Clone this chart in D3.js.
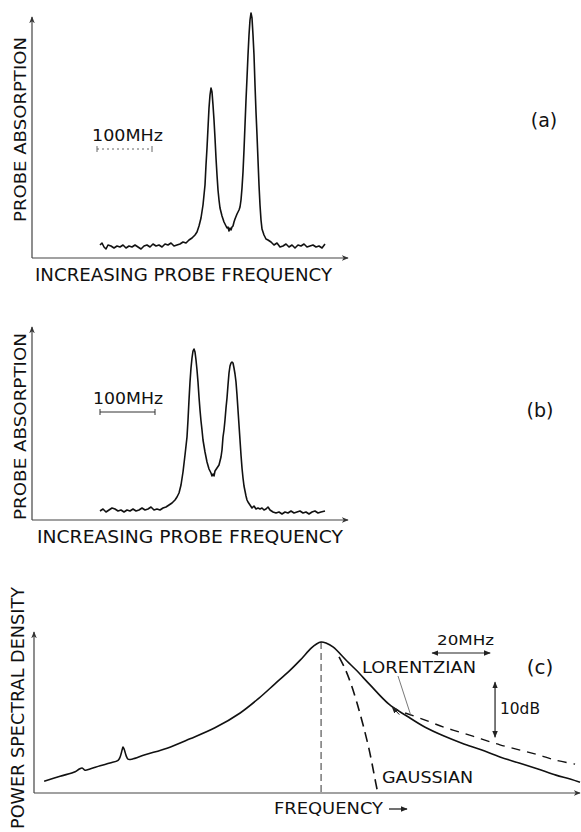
<!DOCTYPE html>
<html><head><meta charset="utf-8">
<script src="https://cdn.jsdelivr.net/npm/d3@7"></script>
<style>body{margin:0;background:#fff} text{font-family:"DejaVu Sans",sans-serif;fill:#111}</style>
</head><body><svg id="fig" width="581" height="832"></svg>
<script>
// ---------- DATA ----------
// Panel (a): probe frequency (arb. units, 55 units = 100 MHz) and absorption (arb.)
const freqA = [68,70,72,74,76,79,82,85,88,91,94,97,100,103,106,109,112,115,118,121,124,127,130,133,136,139,142,145,148,151,154,157,160,163,165,167,169,171,173,174,175,176,177,178,179,180,181,182,183,184,185,186,187,188,190,192,194,195,196,197,198,199,200,201,202,203,205,207,208,209,210,211,212,213,214,215,216,217,218,219,220,221,222,223,224,225,226,227,228,229,230,232,234,236,239,242,245,248,251,254,257,260,263,266,269,272,275,278,281,284,287,290,293];
const absA  = [13,15,11,9,13,12,10,12,11,13,10,12,11,13,11,9,12,13,11,14,12,13,11,14,13,15,12,13,14,16,15,18,20,23,26,32,40,53,73,93,110,130,150,163,170,166,153,138,120,100,83,68,58,50,42,36,32,30,31,27,30,28,31,32,36,39,44,48,51,58,70,86,108,133,158,180,203,223,238,245,240,223,203,173,146,123,98,73,53,38,29,23,19,18,16,13,15,11,12,14,11,13,10,13,12,14,11,12,13,11,12,10,14];
// Panel (b)
const freqB = [68,71,74,77,80,83,86,89,92,95,98,101,104,107,110,113,116,119,122,125,128,131,134,137,140,143,145,147,149,151,153,155,156,157,158,159,160,161,162,163,164,165,166,167,168,169,170,171,173,175,177,179,180,181,182,183,185,187,189,190,191,192,193,194,195,196,197,198,199,200,201,202,203,204,205,206,207,208,209,210,211,212,213,214,215,216,218,220,222,224,226,228,230,232,234,236,238,241,244,247,250,253,256,259,262,265,268,271,274,277,280,283,286,289,293];
const absB  = [9,11,8,10,12,11,9,10,8,10,9,11,9,10,12,10,11,13,10,11,10,12,13,15,17,20,23,27,35,48,65,83,100,120,138,152,162,169,171,168,160,150,138,123,110,99,90,80,68,58,51,47,44,46,44,49,52,55,63,70,83,90,100,112,122,135,147,154,157,158,157,152,146,138,125,110,95,80,65,52,42,34,29,24,20,18,15,12,14,11,12,11,12,10,11,13,10,8,7,8,6,8,7,9,7,8,9,7,8,6,8,9,7,8,9];
// Panel (c): frequency offset (MHz) and power spectral density (dB rel. peak)
const freqC = [-95.5,-90.0,-84.8,-83.4,-82.4,-81.4,-79.7,-76.2,-72.8,-70.0,-69.3,-68.6,-68.3,-67.9,-67.2,-66.6,-65.2,-60.7,-53.1,-45.2,-36.6,-27.9,-21.4,-15.9,-11.0,-7.2,-3.4,-1.7,0,1.7,4.1,9.0,12.1,16.9,23.4,29.7,35.9,42.4,48.6,55.2,61.7,68.3,74.8,81.0,85.9,89.3];
const psdC  = [-25.3,-24.4,-23.6,-23.1,-22.9,-23.3,-23.1,-22.5,-22.0,-21.5,-20.9,-19.6,-19.1,-19.5,-20.7,-21.3,-21.3,-20.5,-19.3,-17.6,-15.6,-12.9,-10.2,-7.6,-5.3,-3.3,-1.1,-0.4,0,-0.2,-0.9,-3.5,-5.1,-7.8,-11.3,-13.5,-15.5,-17.1,-18.4,-19.6,-20.9,-22.0,-23.1,-24.2,-24.9,-25.5];
const gaussF = [6.2,8.3,10.3,12.4,14.5,16.6,18.6,19.5];
const gaussP = [-2.7,-4.9,-7.6,-11.1,-15.1,-19.6,-24.9,-27.3];
const lorF = [29.0,35.9,42.4,48.6,55.2,61.7,68.3,74.8,81.0,87.6];
const lorP = [-12.9,-14.2,-15.5,-16.5,-17.6,-18.7,-19.6,-20.5,-21.5,-22.2];
const scaleBarMHz = 100, unitsPer100MHz = 55;
const spanMHz = 20, spanDB = 10;

// ---------- DRAWING ----------
const svg = d3.select("#fig");
const defs = svg.append("defs");
defs.append("marker").attr("id","ah").attr("viewBox","0 0 10 10").attr("refX",9).attr("refY",5)
  .attr("markerWidth",7).attr("markerHeight",7).attr("markerUnits","userSpaceOnUse").attr("orient","auto-start-reverse")
  .append("path").attr("d","M0,1 L10,5 L0,9 Z").attr("fill","#222");
defs.append("marker").attr("id","ax").attr("viewBox","0 0 10 10").attr("refX",9).attr("refY",5)
  .attr("markerWidth",7).attr("markerHeight",8).attr("markerUnits","userSpaceOnUse").attr("orient","auto")
  .append("path").attr("d","M0,1 L10,5 L0,9 L3,5 Z").attr("fill","#333");

function txt(s, x, y, size, len, opts={}) {
  const t = svg.append("text").text(s).attr("font-size", size);
  if (opts.rot) t.attr("transform", `translate(${x},${y}) rotate(-90)`);
  else t.attr("x", x).attr("y", y);
  if (len) t.attr("textLength", len).attr("lengthAdjust", "spacingAndGlyphs");
  if (opts.anchor) t.attr("text-anchor", opts.anchor);
  return t;
}
function axisLines(x, y) {
  const [x0,x1] = x.range(), [y0,y1] = y.range();
  svg.append("line").attr("x1",x0).attr("y1",y0).attr("x2",x0).attr("y2",y1)
    .attr("stroke","#444").attr("stroke-width",1.2).attr("marker-end","url(#ax)");
  svg.append("line").attr("x1",x0).attr("y1",y0).attr("x2",x1).attr("y2",y0)
    .attr("stroke","#444").attr("stroke-width",1.2).attr("marker-end","url(#ax)");
}
function trace(xs, ys, x, y, curve, extra={}) {
  const p = svg.append("path")
    .attr("d", d3.line().x(i=>x(xs[i])).y(i=>y(ys[i])).curve(curve)(d3.range(xs.length)))
    .attr("fill","none").attr("stroke","#111").attr("stroke-width", extra.w || 1.6)
    .attr("stroke-linejoin","round");
  if (extra.dash) p.attr("stroke-dasharray", extra.dash);
  return p;
}

// Panel (a)
const xA = d3.scaleLinear().domain([0,316]).range([32,348]);
const yA = d3.scaleLinear().domain([0,250]).range([258,17]);
axisLines(xA, yA);
const yAdata = d3.scaleLinear().domain([0,250]).range([258,8]);
trace(freqA, absA, xA, yAdata, d3.curveLinear);
svg.append("line").attr("x1",xA(65)).attr("x2",xA(65+unitsPer100MHz)).attr("y1",149).attr("y2",149)
  .attr("stroke","#666").attr("stroke-width",1).attr("stroke-dasharray","2,3");
[65, 65+unitsPer100MHz].forEach(v=>svg.append("line").attr("x1",xA(v)).attr("x2",xA(v)).attr("y1",146).attr("y2",152).attr("stroke","#666"));
txt("100MHz", 92, 141, 15, 71);
txt("INCREASING PROBE FREQUENCY", 35, 281, 17, 297);
txt("PROBE ABSORPTION", 26, 222, 16, 185, {rot:true});
txt("(a)", 544, 127, 19, null, {anchor:"middle"});

// Panel (b)
const xB = d3.scaleLinear().domain([0,316]).range([32,348]);
const yB = d3.scaleLinear().domain([0,250]).range([520,327]);
axisLines(xB, yB);
const yBdata = d3.scaleLinear().domain([0,250]).range([520,270]);
trace(freqB, absB, xB, yBdata, d3.curveLinear);
svg.append("line").attr("x1",xB(68)).attr("x2",xB(68+unitsPer100MHz)).attr("y1",412).attr("y2",412)
  .attr("stroke","#333").attr("stroke-width",1);
[68, 68+unitsPer100MHz].forEach(v=>svg.append("line").attr("x1",xB(v)).attr("x2",xB(v)).attr("y1",409).attr("y2",415).attr("stroke","#333"));
txt("100MHz", 93, 404, 15, 70);
txt("INCREASING PROBE FREQUENCY", 37, 543, 17, 306);
txt("PROBE ABSORPTION", 26, 520, 16, 187, {rot:true});
txt("(b)", 540, 417, 19, null, {anchor:"middle"});

// Panel (c)
const xC = d3.scaleLinear().domain([-99,89.3]).range([34,580]);
const yC = d3.scaleLinear().domain([-27.45,1.82]).range([793,632]);
axisLines(xC, yC);
svg.append("line").attr("x1",xC(0)).attr("x2",xC(0)).attr("y1",yC(0)).attr("y2",yC(-27.45))
  .attr("stroke","#333").attr("stroke-width",1).attr("stroke-dasharray","7,4");
trace(freqC, psdC, xC, yC, d3.curveCatmullRom.alpha(0.5));
trace(gaussF, gaussP, xC, yC, d3.curveCatmullRom.alpha(0.5), {dash:"10,6"});
trace(lorF, lorP, xC, yC, d3.curveCatmullRom.alpha(0.5), {dash:"9,7", w:1.4});
// 20 MHz span arrow
svg.append("line").attr("x1",xC(38.3)).attr("x2",xC(38.3+spanMHz)).attr("y1",yC(-2)).attr("y2",yC(-2))
  .attr("stroke","#222").attr("stroke-width",1.2).attr("marker-start","url(#ah)").attr("marker-end","url(#ah)");
// 10 dB span arrow
svg.append("line").attr("x1",xC(60)).attr("x2",xC(60)).attr("y1",yC(-7.3)).attr("y2",yC(-7.3-spanDB))
  .attr("stroke","#222").attr("stroke-width",1.2).attr("marker-start","url(#ah)").attr("marker-end","url(#ah)");
// Lorentzian leader
svg.append("line").attr("x1",398).attr("y1",676).attr("x2",411).attr("y2",716).attr("stroke","#555").attr("stroke-width",0.8);
svg.append("line").attr("x1",xC(27)).attr("y1",yC(-13.2)).attr("x2",xC(24.5)).attr("y2",yC(-11.8))
  .attr("stroke","#111").attr("stroke-width",1).attr("marker-end","url(#ah)");
txt("20MHz", 437, 645, 14, 57);
txt("LORENTZIAN", 362, 673, 15, 114);
txt("(c)", 540, 674, 20, null, {anchor:"middle"});
txt("10dB", 500, 714, 15, 40);
txt("GAUSSIAN", 382, 783, 15, 91);
txt("FREQUENCY", 274, 814, 16, 109);
svg.append("line").attr("x1",389).attr("x2",407).attr("y1",809).attr("y2",809)
  .attr("stroke","#111").attr("stroke-width",1.2).attr("marker-end","url(#ah)");
txt("POWER SPECTRAL DENSITY", 24, 829, 17, 242, {rot:true});
</script></body></html>
